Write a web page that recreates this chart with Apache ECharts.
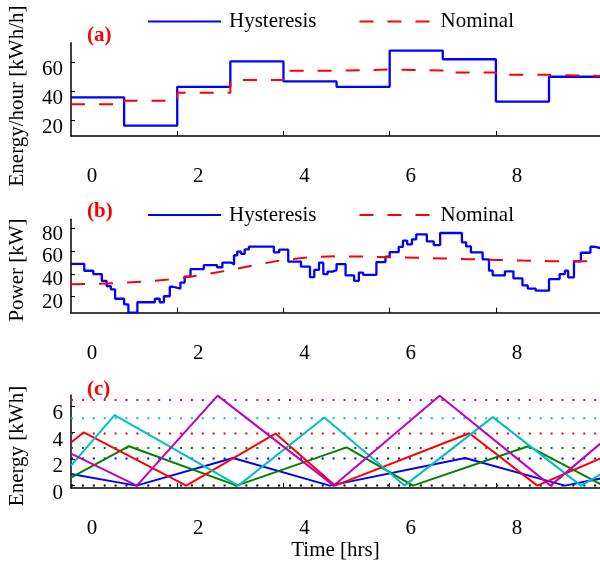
<!DOCTYPE html>
<html>
<head>
<meta charset="utf-8">
<script src="https://cdn.jsdelivr.net/npm/echarts@6/dist/echarts.min.js"></script>
<style>
html,body{margin:0;padding:0;background:#fff;overflow:hidden;}
#chart{width:600px;height:563px;}
</style>
</head>
<body>
<div id="chart"></div>
<script>
// ---------- Data ----------
const xTickLabels = [0, 2, 4, 6, 8];
const xTickMarks = [2, 4, 6, 8];

// (a) hourly energy
const aHours = [0, 1, 2, 3, 4, 5, 6, 7, 8, 9, 10];
const aHyst  = [36.1, 16.6, 43.4, 60.9, 47.1, 43.4, 68.4, 62.4, 33.2, 50.3, 50.3];
const aNom   = [31.4, 33.8, 39.2, 48.0, 54.4, 55.3, 54.7, 53.3, 51.7, 50.8, 50.8];
const aYTicks = [20, 40, 60];

// (b) power
const bTimes = [0, 0.25, 0.42, 0.58, 0.67, 0.75, 0.83, 1.0, 1.08, 1.25,
  1.58, 1.67, 1.75, 1.86, 1.92, 2.06, 2.14, 2.25, 2.5, 2.75,
  2.85, 3.02, 3.07, 3.13, 3.2, 3.27, 3.35, 3.82, 3.92, 4.09,
  4.33, 4.5, 4.58, 4.67, 4.75, 4.83, 4.92, 5.0, 5.17, 5.33,
  5.42, 5.5, 5.75, 5.92, 6.0, 6.17, 6.25, 6.33, 6.42, 6.5,
  6.7, 6.83, 6.95, 7.36, 7.44, 7.53, 7.75, 7.87, 7.94, 8.17,
  8.33, 8.5, 8.6, 8.75, 9.0, 9.2, 9.3, 9.36, 9.47, 9.6,
  9.78, 9.85, 10];
const bHyst = [48.9, 42.9, 40, 33.9, 29.4, 26.5, 18.2, 13.3, 6, 15.1,
  18.2, 15.1, 20.4, 28.8, 27.2, 32.5, 37.8, 44.3, 47.8, 46,
  50.1, 48.4, 56.6, 59.8, 57.8, 61.8, 64.2, 59.2, 61.5, 51,
  46.5, 37.2, 43.6, 50, 40, 42.2, 43.5, 48.8, 38.8, 34,
  41.2, 39.3, 50.6, 55.3, 59.4, 64, 69.4, 66.2, 70.6, 75,
  68.8, 65.6, 76.2, 68, 64.4, 59.1, 53, 43, 38.8, 42.4,
  36.2, 30, 27.1, 25.3, 35.6, 40, 43, 37.1, 51.2, 58.8,
  64.1, 62.6, 62.6];
const bNomTimes = [0, 0.5, 1, 1.5, 2, 2.5, 3, 3.5, 4, 4.5, 5, 5.5, 6, 6.5, 7, 7.5, 8, 8.5, 9, 9.5, 10];
const bNom = [31, 31.3, 32.3, 33.8, 35.9, 39.5, 43.5, 48.3, 52.5, 54.8, 55.7, 55.4, 54.9, 54.4, 53.8, 53.1, 52.5, 51.9, 51.4, 51.2, 51.2];
const bYTicks = [20, 40, 60, 80];

// (c) stored energy of five units (vertices of the zig-zag traces)
const cBlueT = [0, 1.23, 3.05, 4.87, 7.42, 9.3, 10];
const cBlueE = [0.87, 0, 2.08, 0, 2.08, 0, 0.56];
const cGreenT = [0, 1.09, 3.12, 5.19, 6.44, 8.61, 10];
const cGreenE = [0.6, 2.97, 0, 2.88, 0, 2.97, 0.05];
const cRedT = [0, 0.24, 2.17, 3.85, 4.97, 7.5, 8.78, 10];
const cRedE = [3.25, 4.02, 0, 3.92, 0, 3.95, 0, 2.1];
const cCyanT = [0, 0.82, 3.15, 4.77, 6.28, 7.94, 9.6, 10];
const cCyanE = [1.5, 5.32, 0, 5.14, 0, 5.16, 0, 0.92];
const cMagT = [0, 1.24, 2.76, 4.95, 6.94, 9.03, 10];
const cMagE = [2.41, 0, 6.78, 0, 6.78, 0, 3.28];
const cCaps = [2.04, 2.84, 3.92, 5.07, 6.45, 0];   // dotted capacity lines
const cYTicks = [0, 2, 4, 6];

// ---------- Styling ----------
const FONT = 'Liberation Serif';
const BLUE = '#0000ff', GREEN = '#008000', RED = '#ff0000', CYAN = '#00bfbf', MAG = '#bf00bf', BLACK = '#000000';
const capColors = [BLUE, GREEN, RED, CYAN, MAG, BLACK];
const XMAX = 9.96;

const zip = (a, b) => a.map((v, i) => [v, b[i]]);

function xAxis(grid, extra) {
  return Object.assign({
    type: 'value', gridIndex: grid, min: 0, max: XMAX, interval: 2,
    axisLine: { show: true, onZero: false, lineStyle: { color: '#000', width: 1.5 } },
    axisTick: { show: true, inside: true, length: 5, customValues: xTickMarks, lineStyle: { color: '#000', width: 1 } },
    axisLabel: { customValues: xTickLabels, showMinLabel: true, showMaxLabel: true, margin: 30, fontSize: 21, lineHeight: 21, fontFamily: FONT, color: '#000', padding: [0, 0, 0, 42] },
    splitLine: { show: false }
  }, extra || {});
}
function yAxis(grid, min, max, ticks, lh) {
  return {
    type: 'value', gridIndex: grid, min: min, max: max,
    axisLine: { show: true, onZero: false, lineStyle: { color: '#000', width: 1.5 } },
    axisTick: { show: true, inside: true, length: 4, customValues: ticks, lineStyle: { color: '#000', width: 1 } },
    axisLabel: { customValues: ticks, showMinLabel: true, showMaxLabel: true, hideOverlap: false, margin: 8, fontSize: 21, lineHeight: lh, verticalAlign: 'top', fontFamily: FONT, color: '#000' },
    splitLine: { show: false }
  };
}
function legend(top) {
  return {
    data: ['Hysteresis', 'Nominal'], left: 147, top: top, padding: 0,
    itemWidth: 73, itemHeight: 14, itemGap: 42, selectedMode: false,
    itemStyle: { opacity: 0 },
    textStyle: { fontSize: 21, lineHeight: 21, fontFamily: FONT, color: '#000', padding: [0, 0, 0, 3] }
  };
}
function traceSeries(name, grid, data, color, width, extra) {
  return Object.assign({
    name: name, type: 'line', xAxisIndex: grid, yAxisIndex: grid, data: data,
    symbol: 'none', showSymbol: false, color: color, animation: false,
    lineStyle: { color: color, width: width }
  }, extra || {});
}

const series = [
  traceSeries('Hysteresis', 0, zip(aHours, aHyst), BLUE, 2.3, { step: 'end' }),
  traceSeries('Nominal', 0, zip(aHours, aNom), RED, 2, { step: 'end', lineStyle: { color: RED, width: 2, type: [14, 14] } }),
  traceSeries('Hysteresis', 1, zip(bTimes, bHyst), BLUE, 2.3, { step: 'end' }),
  traceSeries('Nominal', 1, zip(bNomTimes, bNom), RED, 2, { lineStyle: { color: RED, width: 2, type: [14, 14] } })
];
cCaps.forEach((v, i) => {
  series.push(traceSeries('cap' + i, 2, [[0, v], [XMAX, v]], capColors[i], 2,
    { silent: true, lineStyle: { color: capColors[i], width: 2, type: [2, 8.9] } }));
});
series.push(traceSeries('u1', 2, zip(cBlueT, cBlueE), BLUE, 2));
series.push(traceSeries('u2', 2, zip(cGreenT, cGreenE), GREEN, 2));
series.push(traceSeries('u3', 2, zip(cRedT, cRedE), RED, 2));
series.push(traceSeries('u4', 2, zip(cCyanT, cCyanE), CYAN, 2));
series.push(traceSeries('u5', 2, zip(cMagT, cMagE), MAG, 2));

function label(txt, x, y) {
  return { type: 'text', x: x, y: y, style: { text: txt, fill: RED, fontSize: 21, fontWeight: 'bold', fontFamily: FONT, textAlign: 'left', textVerticalAlign: 'middle' } };
}
function ytitle(txt, y) {
  return { type: 'text', x: 17, y: y, rotation: Math.PI / 2, style: { text: txt, fill: '#000', fontSize: 21, fontFamily: FONT, textAlign: 'center', textVerticalAlign: 'middle' } };
}

const option = {
  animation: false,
  backgroundColor: '#fff',
  grid: [
    { left: 71, top: 42.7, width: 529, height: 93.3 },
    { left: 71, top: 219.3, width: 529, height: 93.4 },
    { left: 71, top: 395, width: 529, height: 93 }
  ],
  xAxis: [
    xAxis(0), xAxis(1),
    xAxis(2, { name: 'Time [hrs]', nameLocation: 'middle', nameGap: 50, nameTextStyle: { fontSize: 21, lineHeight: 21, fontFamily: FONT, color: '#000' } })
  ],
  yAxis: [
    yAxis(0, 9.45, 73.8, aYTicks, 13),
    yAxis(1, 5.9, 88.3, bYTicks, 11),
    yAxis(2, -0.18, 6.83, cYTicks, 15)
  ],
  legend: [legend(11), legend(204.5)],
  graphic: [
    label('(a)', 87, 36), label('(b)', 87, 212), label('(c)', 87, 390),
    ytitle('Energy/hour [kWh/h]', 96), ytitle('Power [kW]', 270), ytitle('Energy [kWh]', 446)
  ],
  series: series
};

const chart = echarts.init(document.getElementById('chart'), null, { renderer: 'canvas' });
chart.setOption(option);
</script>
</body>
</html>
